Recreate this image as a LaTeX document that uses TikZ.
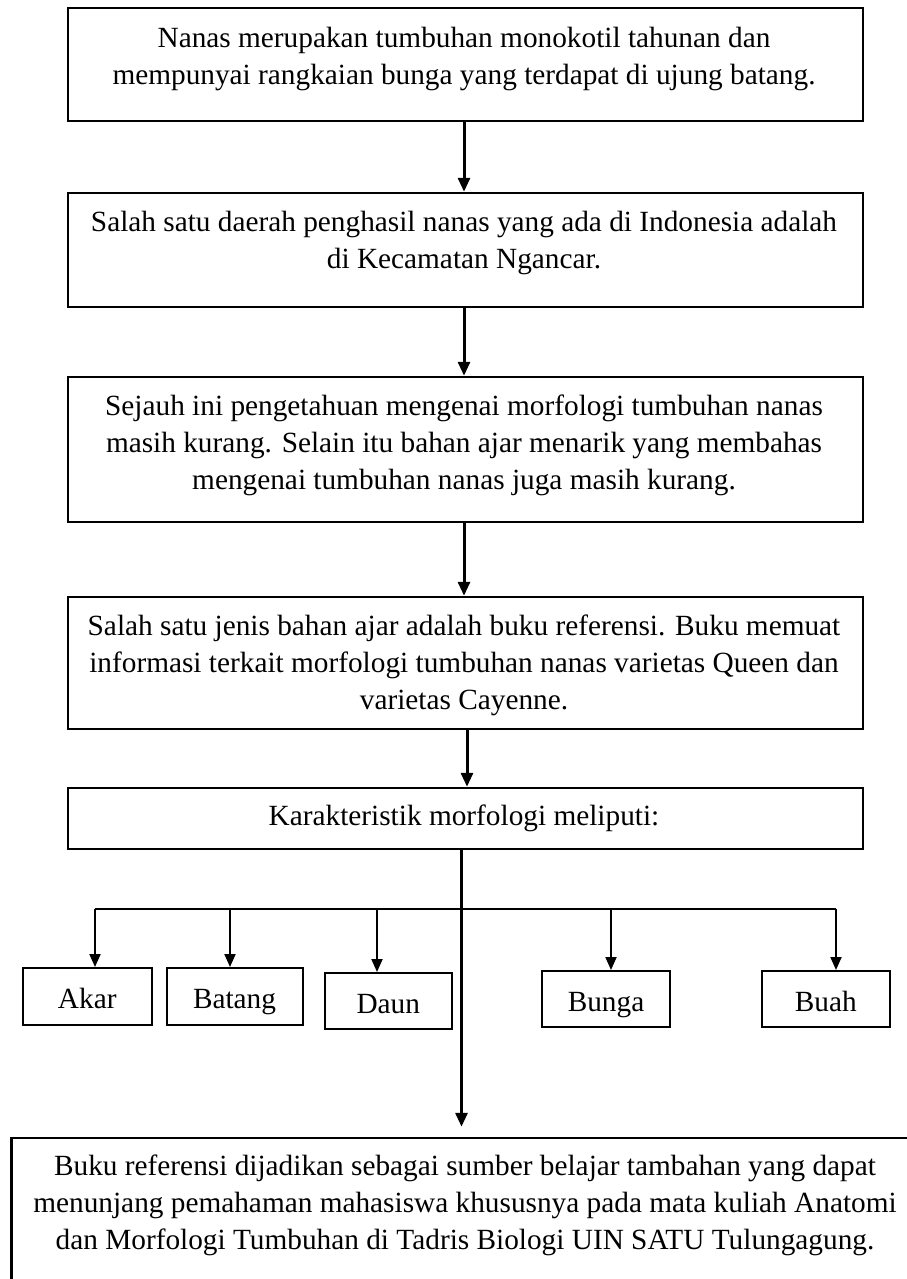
\documentclass[tikz,border=0pt]{standalone}
\usepackage{fontspec}
\setmainfont{Liberation Serif}
\usetikzlibrary{arrows.meta}
\begin{document}
\begin{tikzpicture}[x=1pt,y=-1pt,
  bigbox/.style={draw, line width=2.5pt, rectangle, inner sep=0pt},
  smallbox/.style={draw, line width=2pt, rectangle, inner sep=0pt, font=\fontsize{29.3}{37}\selectfont, text height=26pt, text depth=2pt},
  txt/.style={align=center, inner sep=0pt, anchor=north, font=\fontsize{29.3}{37}\selectfont},
  mainarrow/.style={line width=3pt, -{Triangle[length=14pt,width=12pt]}},
  brarrow/.style={line width=2pt, -{Triangle[length=13pt,width=11pt]}},
  barline/.style={line width=2pt}
]
\useasboundingbox (0,0) rectangle (907,1279);
\clip (0,0) rectangle (907,1279);

% main boxes
\node[bigbox, minimum width=795pt, minimum height=113pt] (b1) at (465.5,64.5) {};
\node[txt] (t1) at (464,21) {\strut Nanas merupakan tumbuhan monokotil tahunan dan\\mempunyai rangkaian bunga yang terdapat di ujung batang.};

\node[bigbox, minimum width=795pt, minimum height=114pt] (b2) at (465.5,250) {};
\node[txt] (t2) at (464,205) {\strut Salah satu daerah penghasil nanas yang ada di Indonesia adalah\\di Kecamatan Ngancar.};

\node[bigbox, minimum width=795pt, minimum height=145pt] (b3) at (465.5,449.5) {};
\node[txt] (t3) at (464,389) {\strut Sejauh ini pengetahuan mengenai morfologi tumbuhan nanas\\masih kurang. Selain itu bahan ajar menarik yang membahas\\mengenai tumbuhan nanas juga masih kurang.};

\node[bigbox, minimum width=795pt, minimum height=132pt] (b4) at (465.5,663) {};
\node[txt] (t4) at (464,609) {\strut Salah satu jenis bahan ajar adalah buku referensi. Buku memuat\\informasi terkait morfologi tumbuhan nanas varietas Queen dan\\varietas Cayenne.};

\node[bigbox, minimum width=795pt, minimum height=61pt] (b5) at (465.5,818.5) {};
\node[txt] (t5) at (464,799) {\strut Karakteristik morfologi meliputi:};

\node[bigbox, minimum width=906.5pt, minimum height=182pt] (b6) at (464.75,1229) {};
\node[txt] (t6) at (465,1149) {\strut Buku referensi dijadikan sebagai sumber belajar tambahan yang dapat\\menunjang pemahaman mahasiswa khususnya pada mata kuliah Anatomi\\dan Morfologi Tumbuhan di Tadris Biologi UIN SATU Tulungagung.};

% small boxes
\node[smallbox, minimum width=128.5pt, minimum height=57pt] (akar) at (87.25,996.5) {Akar};
\node[smallbox, minimum width=136pt, minimum height=57pt] (batang) at (234.5,996.5) {Batang};
\node[smallbox, minimum width=127.5pt, minimum height=56pt] (daun) at (388.25,1001) {Daun};
\node[smallbox, minimum width=128pt, minimum height=56pt] (bunga) at (606,999) {Bunga};
\node[smallbox, minimum width=127.5pt, minimum height=56pt] (buah) at (825.75,999) {Buah};

% main arrows
\coordinate (ma) at (464,0);
\coordinate (mb) at (467,0);
\coordinate (mc) at (461.5,0);
\draw[mainarrow] (b1.south -| ma) -- (b2.north -| ma);
\draw[mainarrow] (b2.south -| ma) -- (b3.north -| ma);
\draw[mainarrow] (b3.south -| ma) -- (b4.north -| ma);
\draw[mainarrow] (b4.south -| mb) -- (b5.north -| mb);
\draw[mainarrow, shorten >=10pt] (b5.south -| mc) -- (b6.north -| mc);

% branches
\coordinate (j1) at (95,909);
\coordinate (j2) at (230,909);
\coordinate (j3) at (377,909);
\coordinate (j4) at (611,909);
\coordinate (j5) at (836,909);
\draw[barline] (j1) -- (j5);
\draw[brarrow] (j1) -- (j1 |- akar.north);
\draw[brarrow] (j2) -- (j2 |- batang.north);
\draw[brarrow] (j3) -- (j3 |- daun.north);
\draw[brarrow] (j4) -- (j4 |- bunga.north);
\draw[brarrow] (j5) -- (j5 |- buah.north);
\end{tikzpicture}
\end{document}
